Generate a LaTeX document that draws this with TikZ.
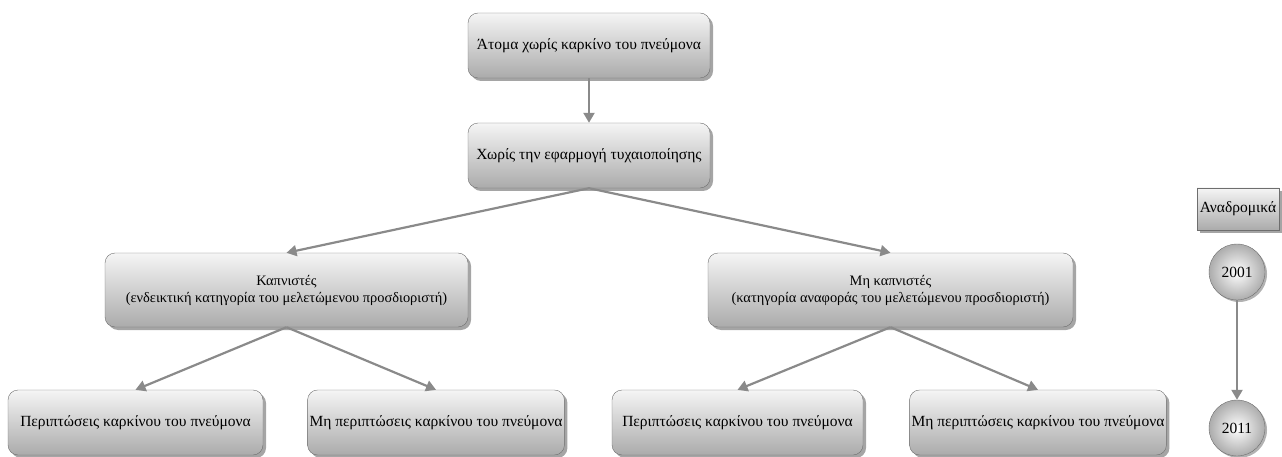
\documentclass[tikz,border=0pt]{standalone}
\usepackage{fontspec}
\setmainfont{Liberation Serif}
\usetikzlibrary{arrows.meta,shadows}
\definecolor{linegray}{RGB}{138,138,138}
\definecolor{edgegray}{RGB}{110,110,110}

\begin{document}
\begin{tikzpicture}[x=1pt,y=-1pt]
\tikzstyle{every node}+=[font=\fontsize{15.5}{18}\selectfont]
\tikzstyle{boxnode}=[draw=edgegray, rounded corners=10pt, top color=white!96!black, bottom color=gray!66, drop shadow={shadow xshift=3pt,shadow yshift=-3pt,fill=black!70}, align=center, inner sep=2pt]
\tikzstyle{twoline}=[font=\fontsize{14.4}{17}\selectfont]
\tikzstyle{yearnode}=[circle, draw=edgegray, inner color=white, outer color=gray!65, minimum size=56pt, inner sep=0pt, drop shadow={shadow xshift=2pt,shadow yshift=-2pt,fill=black!60}]
\tikzstyle{arr}=[draw=linegray, line width=2.2pt, -{Triangle[length=10pt,width=11pt]}]
\useasboundingbox (0,0) rectangle (1282,457);
\node[boxnode, minimum width=242pt, minimum height=65pt] (atoma) at (589,45.5) {Άτομα χωρίς καρκίνο του πνεύμονα};
\node[boxnode, minimum width=242pt, minimum height=65pt] (xoris) at (589,155.5) {Χωρίς την εφαρμογή τυχαιοποίησης};
\node[boxnode, twoline, minimum width=363pt, minimum height=74pt] (kapn) at (286.5,290) {Καπνιστές\\(ενδεικτική κατηγορία του μελετώμενου προσδιοριστή)};
\node[boxnode, twoline, minimum width=365pt, minimum height=74pt] (mhkapn) at (890.5,290) {Μη καπνιστές\\(κατηγορία αναφοράς του μελετώμενου προσδιοριστή)};
\node[boxnode, minimum width=255pt, minimum height=65pt] (per1) at (135.5,422.5) {Περιπτώσεις καρκίνου του πνεύμονα};
\node[boxnode, minimum width=254pt, minimum height=65pt] (mhper1) at (436,422.5) {Μη περιπτώσεις καρκίνου του πνεύμονα};
\node[boxnode, minimum width=251pt, minimum height=65pt] (per2) at (737.5,422.5) {Περιπτώσεις καρκίνου του πνεύμονα};
\node[boxnode, minimum width=250pt, minimum height=65pt] (mhper2) at (1038,422.5) {Μη περιπτώσεις καρκίνου του πνεύμονα};
\node[boxnode, rounded corners=0pt, minimum width=82pt, minimum height=42pt, inner sep=1pt] (anadr) at (1238,209) {Αναδρομικά};
\node[yearnode] (y2001) at (1237,272) {2001};
\node[yearnode] (y2011) at (1237,428) {2011};
\draw[arr] (atoma) -- (xoris);
\draw[arr] (xoris.south) -- (kapn.north);
\draw[arr] (xoris.south) -- (mhkapn.north);
\draw[arr] (kapn.south) -- (per1.north);
\draw[arr] (kapn.south) -- (mhper1.north);
\draw[arr] (mhkapn.south) -- (per2.north);
\draw[arr] (mhkapn.south) -- (mhper2.north);
\draw[arr] (y2001) -- (y2011);
\end{tikzpicture}
\end{document}
